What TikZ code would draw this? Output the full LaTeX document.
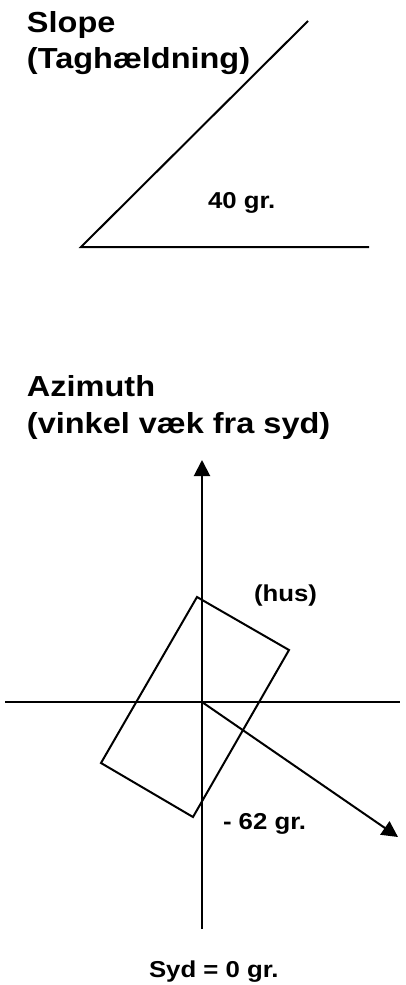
\documentclass[tikz,border=0pt]{standalone}
\usepackage{fontspec}
\setmainfont{Liberation Sans}[FakeStretch=1.12]
\usetikzlibrary{arrows.meta}
\tikzset{
	overskrift/.style={anchor=base west,inner sep=0pt,font=\bfseries\fontsize{29}{34}\selectfont},
	maerke/.style={anchor=base west,inner sep=0pt,font=\bfseries\fontsize{23}{28}\selectfont},
	pil/.style={-{Triangle[length=16pt,width=16pt]}}
}
\begin{document}
\begin{tikzpicture}[x=1pt,y=-1pt,line width=2pt]
		\useasboundingbox (0,0) rectangle (405,985);
	%Taghaeldning
		\node[overskrift] (slope) at (26,32) {Slope};
		\node[overskrift] (tag) at (26,68) {(Taghældning)};
		\coordinate (s0) at (81,247);
		\coordinate (s1) at (308,21);
		\coordinate (s2) at (369,247);
		\draw (s1)--(s0)--(s2);
		\node[maerke] (grad) at (207,208) {40 gr.};
	%Azimuth
		\node[overskrift] (azi) at (26,396) {Azimuth};
		\node[overskrift] (vinkel) at (26,433) {(vinkel væk fra syd)};
		\coordinate (O) at (202,702);
		\coordinate (vest) at (5,702);
		\coordinate (oest) at (400,702);
		\coordinate (nord) at (202,460);
		\coordinate (syd) at (202,929);
		\coordinate (retning) at (398,837);
		\draw (vest)--(oest);
		\draw[pil] (syd)--(nord);
		\draw[pil] (O)--(retning);
	%Hus
		\coordinate (h1) at (197,597);
		\coordinate (h2) at (289,650);
		\coordinate (h3) at (193,817);
		\coordinate (h4) at (101,763);
		\draw (h1)--(h2)--(h3)--(h4)--cycle;
		\node[maerke] (hus) at (253,601) {(hus)};
		\node[maerke] (azigrad) at (222,829) {- 62 gr.};
		\node[maerke] (sydgrad) at (148,977) {Syd = 0 gr.};
\end{tikzpicture}
\end{document}
